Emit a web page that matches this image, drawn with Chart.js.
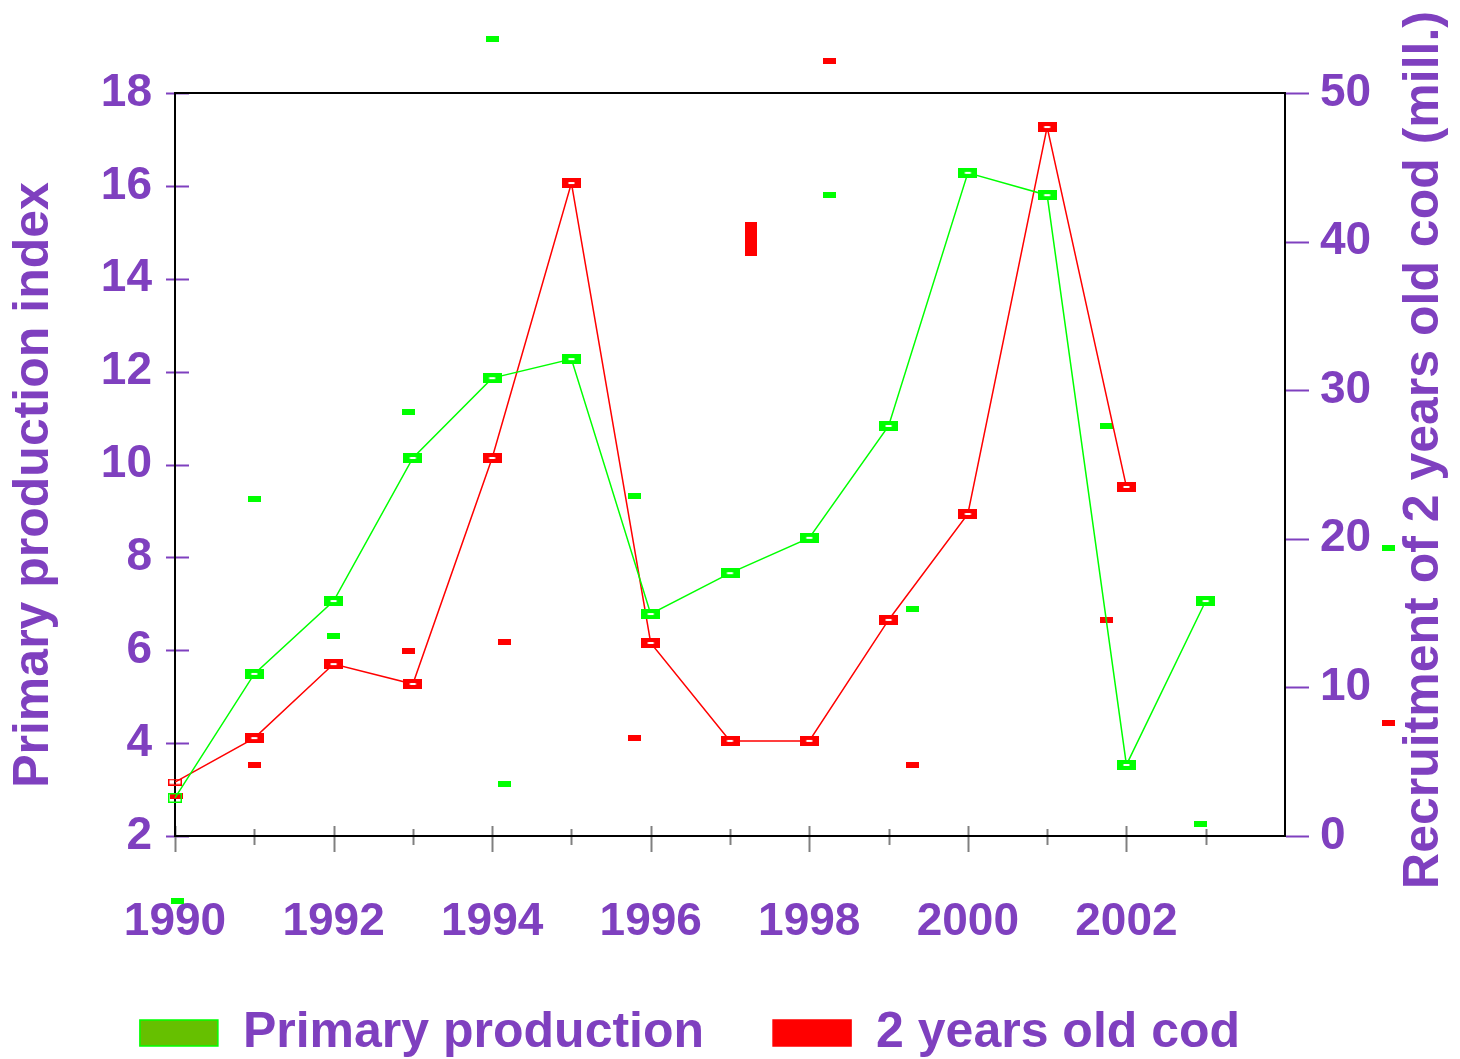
<!DOCTYPE html>
<html lang="en">
<head>
<meta charset="UTF-8">
<title>Primary production and 2 years old cod</title>
<style>
    * { margin: 0; padding: 0; box-sizing: border-box; }
    body { background: #fff; }
    .wrap { width: 1460px; height: 1059px; position: relative; }
</style>
<script src="https://cdn.jsdelivr.net/npm/chart.js"></script>
</head>
<body>
<div class="wrap"><canvas id="chart"></canvas></div>
<script>
// Values
const years = [1990, 1991, 1992, 1993, 1994, 1995, 1996, 1997, 1998, 1999, 2000, 2001, 2002, 2003];
const primaryProduction = [2.82, 5.49, 7.06, 10.14, 11.86, 12.27, 6.78, 7.66, 8.42, 10.83, 16.28, 15.80, 3.53, 7.06];

const codYears = [1990, 1991, 1992, 1993, 1994, 1995, 1996, 1997, 1998, 1999, 2000, 2001, 2002];
const codRecruitment = [3.63, 6.59, 11.57, 10.23, 25.44, 43.94, 12.99, 6.4, 6.4, 14.54, 21.67, 47.71, 23.49];

// stray marks in the original figure
const strayGreenX = [1994.0, 1991.0, 1992.95, 1992.0, 1994.15, 1995.8, 1998.25, 1999.3, 2001.75, 2002.93, 1990.03, 2005.3];
const strayGreenY = [19.16, 9.26, 11.13, 6.31, 3.12, 9.32, 15.8, 6.89, 10.82, 2.26, 0.6, 8.2];
const strayRedX = [1991.0, 1992.95, 1994.15, 1995.8, 1998.25, 1999.3, 2001.75, 2005.3, 1990.02];
const strayRedY = [4.78, 12.45, 13.06, 6.6, 52.15, 4.78, 14.54, 7.6, 2.69];
const barRedX = [1997.27];
const barRedY = [40.2];

const leftTicks = [2, 4, 6, 8, 10, 12, 14, 16, 18];
const rightTicks = [0, 10, 20, 30, 40, 50];
const yearTicks = years;

const purple = '#7f40bf';
const fontFamily = '"Liberation Sans", Arial, sans-serif';

function marker(w, h, color, kind) {
    const c = document.createElement('canvas');
    c.width = w;
    c.height = h;
    const g = c.getContext('2d');
    if (kind === 'hollow') {
        g.strokeStyle = color;
        g.lineWidth = 1.5;
        g.strokeRect(0.75, 0.75, w - 1.5, h - 1.5);
    } else {
        g.fillStyle = color;
        g.fillRect(0, 0, w, h);
        if (kind === 'dash') {
            g.fillStyle = '#fff';
            g.fillRect(w / 2 - 3, h / 2 - 1, 6, 2);
        }
    }
    return c;
}

const greenMark = marker(19, 10, '#00ff00', 'dash');
const redMark = marker(19, 10, '#ff0000', 'dash');
const greenHollow = marker(14, 10, '#00ff00', 'hollow');
const redHollow = marker(14, 7, '#ff0000', 'hollow');
const greenSmall = marker(13, 6, '#00ff00');
const redSmall = marker(13, 6, '#ff0000');
const redTall = marker(12, 34, '#ff0000');

// frame, tick marks and the two rotated axis titles
const framePlugin = {
    id: 'frame',
    beforeDatasetsDraw(chart) {
        const { ctx, chartArea: a, scales } = chart;
        ctx.save();
        ctx.lineWidth = 2;
        ctx.strokeStyle = purple;
        leftTicks.forEach(v => {
            const y = Math.round(scales.y.getPixelForValue(v)) + 0.5;
            ctx.beginPath(); ctx.moveTo(a.left - 9, y); ctx.lineTo(a.left + 14, y); ctx.stroke();
        });
        rightTicks.forEach(v => {
            const y = Math.round(scales.y1.getPixelForValue(v)) + 0.5;
            ctx.beginPath(); ctx.moveTo(a.right + 1, y); ctx.lineTo(a.right + 24, y); ctx.stroke();
        });
        ctx.strokeStyle = '#808080';
        yearTicks.forEach(v => {
            const x = Math.round(scales.x.getPixelForValue(v)) + 0.5;
            const up = v % 2 === 0 ? 10 : 7;
            const down = v % 2 === 0 ? 16 : 9;
            ctx.beginPath(); ctx.moveTo(x, a.bottom - up); ctx.lineTo(x, a.bottom + down); ctx.stroke();
        });
        ctx.strokeStyle = '#000';
        ctx.strokeRect(a.left, a.top, a.right - a.left, a.bottom - a.top);
        ctx.restore();
    },
    afterDraw(chart) {
        const { ctx } = chart;
        ctx.save();
        ctx.fillStyle = purple;
        ctx.font = 'bold 50px ' + fontFamily;
        ctx.textAlign = 'center';
        ctx.textBaseline = 'middle';
        ctx.translate(34, 485);
        ctx.rotate(-Math.PI / 2);
        ctx.fillText('Primary production index', 0, 0);
        ctx.restore();
        ctx.save();
        ctx.fillStyle = purple;
        ctx.font = 'bold 50px ' + fontFamily;
        ctx.textAlign = 'center';
        ctx.textBaseline = 'middle';
        ctx.translate(1424, 450);
        ctx.rotate(-Math.PI / 2);
        ctx.fillText('Recruitment of 2 years old cod (mill.)', 0, 0);
        ctx.restore();
    }
};

const tickFont = { family: fontFamily, size: 46, weight: 'bold' };

new Chart(document.getElementById('chart'), {
    type: 'line',
    data: {
        datasets: [{
            label: 'Primary production',
            data: years.map((x, i) => ({ x, y: primaryProduction[i] })),
            yAxisID: 'y',
            borderColor: '#00ff00',
            backgroundColor: '#66c000',
            borderWidth: 1.5,
            pointStyle: ctx => ctx.dataIndex === 0 ? greenHollow : greenMark,
            pointRadius: 10,
            clip: false
        }, {
            label: '2 years old cod',
            data: codYears.map((x, i) => ({ x, y: codRecruitment[i] })),
            yAxisID: 'y1',
            borderColor: '#ff0000',
            backgroundColor: '#ff0000',
            borderWidth: 1.5,
            pointStyle: ctx => ctx.dataIndex === 0 ? redHollow : redMark,
            pointRadius: 10,
            clip: false
        }, {
            label: 'stray green',
            data: strayGreenX.map((x, i) => ({ x, y: strayGreenY[i] })),
            yAxisID: 'y',
            showLine: false,
            pointStyle: greenSmall,
            pointRadius: 150,
            clip: false
        }, {
            label: 'stray red',
            data: strayRedX.map((x, i) => ({ x, y: strayRedY[i] })),
            yAxisID: 'y1',
            showLine: false,
            pointStyle: redSmall,
            pointRadius: 150,
            clip: false
        }, {
            label: 'stray red bar',
            data: barRedX.map((x, i) => ({ x, y: barRedY[i] })),
            yAxisID: 'y1',
            showLine: false,
            pointStyle: redTall,
            pointRadius: 50,
            clip: false
        }]
    },
    options: {
        responsive: true,
        maintainAspectRatio: false,
        animation: false,
        events: [],
        layout: { autoPadding: false, padding: { top: 93, right: 80, bottom: -9, left: 0 } },
        plugins: {
            tooltip: { enabled: false },
            legend: {
                position: 'bottom',
                labels: {
                    filter: item => item.datasetIndex < 2,
                    boxWidth: 78,
                    boxHeight: 26,
                    padding: 69,
                    color: purple,
                    font: { family: fontFamily, size: 50, weight: 'bold' }
                }
            }
        },
        scales: {
            x: {
                type: 'linear',
                min: 1990,
                max: 2004,
                afterFit: s => { s.height = 103; },
                grid: { display: false, drawTicks: false },
                border: { display: false },
                ticks: {
                    stepSize: 1,
                    autoSkip: false,
                    maxRotation: 0,
                    padding: 59,
                    color: purple,
                    font: tickFont,
                    callback: v => (v % 2 === 0 && v < 2004) ? String(v) : ''
                }
            },
            y: {
                position: 'left',
                min: 2,
                max: 18,
                afterFit: s => { s.width = 175; },
                grid: { display: false, drawTicks: false },
                border: { display: false },
                ticks: { stepSize: 2, padding: 23, color: purple, font: tickFont }
            },
            y1: {
                position: 'right',
                min: 0,
                max: 50,
                afterFit: s => { s.width = 95; },
                grid: { display: false, drawTicks: false },
                border: { display: false },
                ticks: { stepSize: 10, padding: 35, color: purple, font: tickFont }
            }
        }
    },
    plugins: [framePlugin]
});
</script>
</body>
</html>
